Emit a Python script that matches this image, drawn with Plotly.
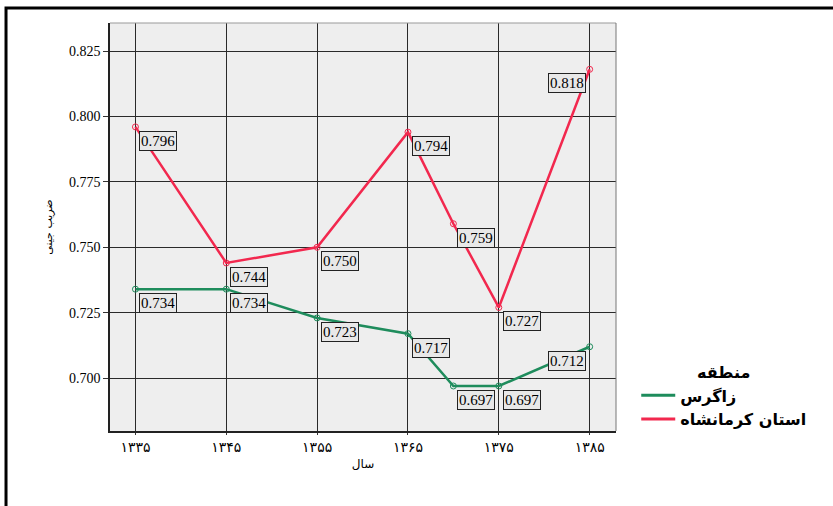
import plotly.graph_objects as go

years = [1335, 1345, 1355, 1365, 1370, 1375, 1385]
tick_vals = [1335, 1345, 1355, 1365, 1375, 1385]
tick_text = ["۱۳۳۵", "۱۳۴۵", "۱۳۵۵", "۱۳۶۵", "۱۳۷۵", "۱۳۸۵"]
y_ticks = [0.700, 0.725, 0.750, 0.775, 0.800, 0.825]

zagros = [0.734, 0.734, 0.723, 0.717, 0.697, 0.697, 0.712]
kermanshah = [0.796, 0.744, 0.750, 0.794, 0.759, 0.727, 0.818]

name_zagros = "زاگرس"
name_kermanshah = "استان کرمانشاه"
green = "#1e8c5c"
red = "#f2284e"

fig = go.Figure()
for vals, nm, col in [(zagros, name_zagros, green), (kermanshah, name_kermanshah, red)]:
    fig.add_trace(go.Scatter(x=years, y=vals, name=nm, mode="lines+markers", showlegend=False,
                             line=dict(color=col, width=2.5),
                             marker=dict(symbol="circle-open", size=6, color=col)))
for nm, col in [(name_zagros, green), (name_kermanshah, red)]:
    fig.add_trace(go.Scatter(x=[None], y=[None], name=f"<b>{nm}</b>", mode="lines",
                             line=dict(color=col, width=3)))

def add_labels(xs, ys, left_idx):
    for i, (xv, yv) in enumerate(zip(xs, ys)):
        left = i in left_idx
        fig.add_annotation(x=xv, y=yv, text=f"{yv:.3f}", showarrow=False,
                           xanchor="right" if left else "left", yanchor="top",
                           xshift=-4 if left else 4, yshift=-4,
                           font=dict(family="Liberation Serif", size=15, color="black"),
                           bgcolor="#e8e8e8", bordercolor="#222", borderwidth=1, borderpad=1)

add_labels(years, kermanshah, {6})
add_labels(years, zagros, {6})

# outer frame
fig.add_shape(type="rect", xref="paper", yref="paper", x0=-0.2055, x1=1.5, y0=-0.3, y1=1.037,
              line=dict(color="black", width=3), fillcolor="rgba(0,0,0,0)", layer="below")

fig.update_layout(
    width=833, height=506,
    margin=dict(l=110, r=217, t=23, b=75),
    paper_bgcolor="white", plot_bgcolor="#eeeeee",
    showlegend=True,
    legend=dict(title=dict(text="<b>منطقه</b>", side="top center",
                           font=dict(family="DejaVu Sans", size=16, color="black")),
                font=dict(family="DejaVu Sans", size=16, color="black"),
                x=1.04, y=0.18, xanchor="left", yanchor="top",
                bgcolor="rgba(0,0,0,0)", tracegroupgap=0, itemwidth=34),
)
fig.update_xaxes(range=[1332.2, 1387.9], tickvals=tick_vals, ticktext=tick_text,
                 showgrid=True, gridcolor="#2a2a2a", gridwidth=1.2,
                 ticks="outside", ticklen=2, tickcolor="#333",
                 showline=True, linecolor="#222", linewidth=1.5, mirror=False,
                 zeroline=False, automargin=False,
                 tickfont=dict(family="DejaVu Sans", size=14, color="black"),
                 title=dict(text="سال", font=dict(family="DejaVu Sans", size=12, color="black"), standoff=6))
fig.update_yaxes(range=[0.6798, 0.8357], tickvals=y_ticks, ticktext=[f"{v:.3f}" for v in y_ticks],
                 showgrid=True, gridcolor="#2a2a2a", gridwidth=1.2,
                 ticks="outside", ticklen=5, tickcolor="#333",
                 showline=True, linecolor="#222", linewidth=1.5, mirror=False,
                 zeroline=False, automargin=False,
                 tickfont=dict(family="Liberation Serif", size=14, color="black"),
                 title=dict(text="ضریب جینی", font=dict(family="DejaVu Sans", size=11, color="black"), standoff=14))
fig.add_shape(type="line", xref="paper", yref="paper", x0=0, x1=1, y0=1, y1=1, line=dict(color="#999", width=1))
fig.add_shape(type="line", xref="paper", yref="paper", x0=1, x1=1, y0=0, y1=1, line=dict(color="#777", width=1))

fig.write_html("out.html", config={"displayModeBar": False},
               post_script="document.body.style.margin='0';document.body.style.overflow='hidden';")
